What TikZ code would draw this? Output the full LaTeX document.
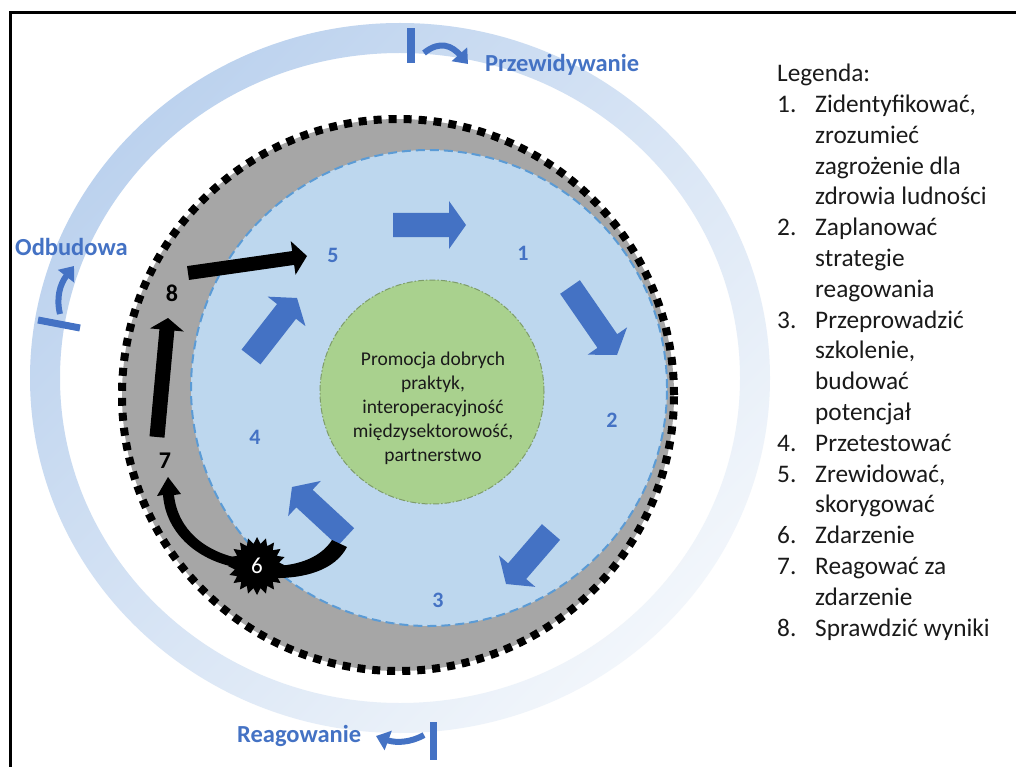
\documentclass[tikz,border=0pt]{standalone}
\usepackage{fontspec}
\setmainfont{Carlito}
\usetikzlibrary{calc,arrows.meta,shapes.geometric}
\definecolor{obl}{HTML}{4472C4}
\definecolor{lbl}{HTML}{BDD7EE}
\definecolor{dbl}{HTML}{5B9BD5}
\definecolor{grn}{HTML}{A9D18E}
\definecolor{grnb}{HTML}{7E9C6A}
\definecolor{gry}{HTML}{A6A6A6}
\definecolor{ringA}{HTML}{BCD2EE}
\definecolor{ringB}{HTML}{F2F6FB}
\definecolor{txt}{HTML}{1A1A1A}
\newcommand\fatarrow[6]{%
  \coordinate (fa-h) at ($(#2)!#5!(#1)$);
  \fill[#6] ($(#1)!#3!90:(#2)$) -- ($(fa-h)!#3!90:(#2)$) -- ($(fa-h)!#4!90:(#2)$)
     -- (#2) -- ($(fa-h)!#4!-90:(#2)$) -- ($(fa-h)!#3!-90:(#2)$) -- ($(#1)!#3!-90:(#2)$) -- cycle;}
\tikzset{
  bluenum/.style={text=obl,font=\bfseries\fontsize{22}{22}\selectfont,inner sep=0pt},
  blacknum/.style={text=black,font=\bfseries\fontsize{24}{24}\selectfont,inner sep=0pt},
  phase/.style={text=obl,font=\bfseries\fontsize{24.5}{24.5}\selectfont,inner sep=0pt,anchor=base west},
  marker/.style={obl,line width=6pt,-{Triangle[length=13pt,width=20pt]}},
}
\begin{document}
\begin{tikzpicture}[x=1pt,y=-1pt]
\useasboundingbox (0,0) rectangle (1016,767);
\fill[white] (0,0) rectangle (1016,767);
% outer ring
\shade[even odd rule,left color=ringA,right color=ringB,shading angle=45]
  (400,378) ellipse [x radius=370pt,y radius=355pt]
  (400,378) ellipse [x radius=340pt,y radius=325pt];
% frame
\draw[line width=3pt] (10,767) -- (10,13) -- (1016,13);
% markers on ring
\fill[obl] (407,28) rectangle (415,63);
\draw[marker] (424,53) .. controls (440,40) and (452,46) .. (468,64);
\node[phase] (pz) at (485,72) {Przewidywanie};
\draw[obl,line width=7pt] (38,320) -- (80,328);
\draw[marker] (60,314) .. controls (56,298) and (60,284) .. (74,266);
\node[phase] (od) at (15,255) {Odbudowa};
\fill[obl] (430,722) rectangle (437,760);
\draw[marker] (424,735) .. controls (410,743) and (395,743) .. (376,736);
\node[phase] (rg) at (237,742) {Reagowanie};
% gray disc, blue disc, green disc
\fill[gry] (398,395) circle[radius=276pt];
\fill[lbl] (429,388) circle[radius=238pt];
\draw[dbl,line width=2pt,dash pattern=on 9pt off 5pt] (429,388) circle[radius=238pt];
\fill[grn] (432,392) circle[radius=112pt];
\draw[grnb,line width=1pt,dash pattern=on 6pt off 2pt on 1.5pt off 2pt] (432,392) circle[radius=112pt];
\node[align=center,text=txt,font=\fontsize{19.5}{24}\selectfont] (center) at (433,408)
  {Promocja dobrych\\praktyk,\\interoperacyjność\\międzysektorowość,\\partnerstwo};
% blue cycle arrows
\coordinate (a1s) at (393,225); \coordinate (a1e) at (466,225);
\coordinate (a2s) at (570,287); \coordinate (a2e) at (617,355);
\coordinate (a3s) at (551,532); \coordinate (a3e) at (506,584);
\coordinate (a4s) at (346,537); \coordinate (a4e) at (292,487);
\coordinate (a5s) at (251,357); \coordinate (a5e) at (297,298);
\fatarrow{a1s}{a1e}{12pt}{24pt}{17pt}{obl}
\fatarrow{a2s}{a2e}{12pt}{24pt}{17pt}{obl}
\fatarrow{a3s}{a3e}{12pt}{24pt}{17pt}{obl}
\fatarrow{a4s}{a4e}{12pt}{24pt}{17pt}{obl}
\fatarrow{a5s}{a5e}{12pt}{24pt}{17pt}{obl}
% blue numbers
\node[bluenum] (n1) at (523,253) {1};
\node[bluenum] (n2) at (612,420) {2};
\node[bluenum] (n3) at (438,600) {3};
\node[bluenum] (n4) at (255,437) {4};
\node[bluenum] (n5) at (333,255) {5};
% black arrows
\coordinate (b1s) at (188,273); \coordinate (b1e) at (307,256);
\coordinate (b2s) at (157,437); \coordinate (b2e) at (168,318);
\fatarrow{b1s}{b1e}{7pt}{17pt}{14pt}{black}
\fatarrow{b2s}{b2e}{7.5pt}{17pt}{12pt}{black}
\node[blacknum] (n8) at (172,293) {8};
\node[blacknum] (n7) at (165,461) {7};
% star 6 and its curved arrows
\fill[black] (240,568) .. controls (200,562) and (166,535) .. (163,495)
   -- (157,496) -- (168,477) -- (181,494) -- (174,495)
   .. controls (178,530) and (205,552) .. (242,559) -- cycle;
\fill[black] (272,566) .. controls (300,566) and (322,556) .. (332,540)
   -- (347,547) .. controls (335,570) and (305,579) .. (270,578) -- cycle;
\node[star,star points=20,star point ratio=1.3,fill=black,minimum size=58pt,inner sep=0pt,
  text=white,font=\fontsize{23}{23}\selectfont] (six) at (257,566) {6};
% dotted boundary
\draw[line width=8pt,dash pattern=on 8pt off 7pt] (398,395) circle[radius=276pt];
% legend
\node[anchor=north west,inner sep=0pt,text=txt,font=\fontsize{25.3}{30.8}\selectfont] (legend) at (777,60)
{\begin{tabular}{@{}p{38pt}@{}l@{}}
\multicolumn{2}{@{}l@{}}{Legenda:}\\
1. & Zidentyfikować,\\
   & zrozumieć\\
   & zagrożenie dla\\
   & zdrowia ludności\\
2. & Zaplanować\\
   & strategie\\
   & reagowania\\
3. & Przeprowadzić\\
   & szkolenie,\\
   & budować\\
   & potencjał\\
4. & Przetestować\\
5. & Zrewidować,\\
   & skorygować\\
6. & Zdarzenie\\
7. & Reagować za\\
   & zdarzenie\\
8. & Sprawdzić wyniki
\end{tabular}};
\end{tikzpicture}
\end{document}
